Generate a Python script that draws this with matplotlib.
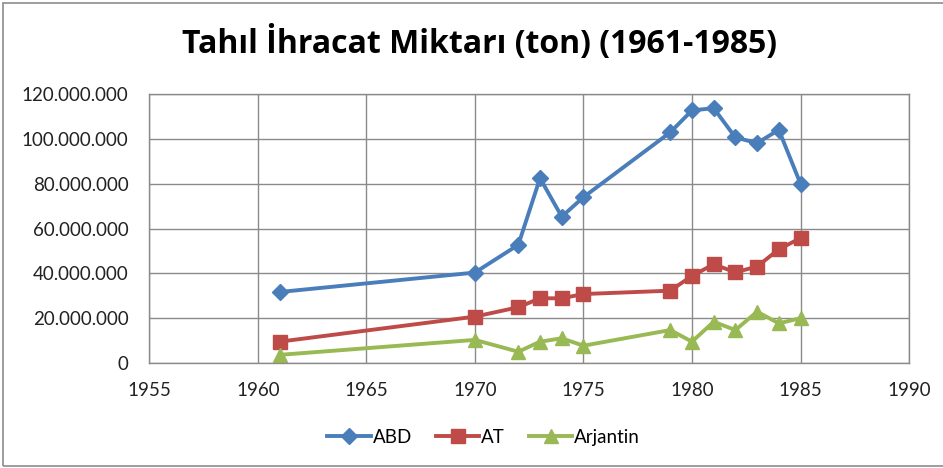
import numpy as np
import matplotlib
matplotlib.use('Agg')
from matplotlib import pyplot as plt
from matplotlib.ticker import FuncFormatter
from matplotlib.patches import Rectangle

years = [1961, 1970, 1972, 1973, 1974, 1975, 1979, 1980, 1981, 1982, 1983, 1984, 1985]
abd = [31.6, 40.3, 52.7, 82.5, 65.3, 74.0, 103.0, 112.8, 113.8, 100.7, 98.2, 104.1, 80.0]
at = [9.4, 20.6, 24.8, 28.8, 28.8, 30.7, 32.2, 38.8, 44.0, 40.4, 43.0, 50.7, 55.7]
arjantin = [3.5, 10.2, 4.9, 9.4, 10.9, 7.6, 14.6, 9.4, 18.3, 14.6, 22.8, 17.6, 19.9]

title = 'Tahıl İhracat Miktarı (ton) (1961-1985)'
FONT = ['Lato', 'DejaVu Sans']

plt.rcParams['font.family'] = FONT

fig = plt.figure(figsize=(9.43, 4.68), dpi=100)
fig.patches.append(Rectangle((3 / 943, 2 / 468), 1.2, 1 - 5 / 468,
                             transform=fig.transFigure, fill=False,
                             edgecolor='#8c8c8c', linewidth=1.2))
ax = fig.add_axes([0.1583, 0.225, 0.8057, 0.5735])

million = 1e6
ax.plot(years, np.array(abd) * million, color='#4A7EBB', lw=2.8,
        marker='D', ms=8.5, label='ABD')
ax.plot(years, np.array(at) * million, color='#BE4B48', lw=2.8,
        marker='s', ms=10, label='AT')
ax.plot(years, np.array(arjantin) * million, color='#98B954', lw=2.8,
        marker='^', ms=10.5, label='Arjantin')

ax.set_xlim(1955, 1990)
ax.set_ylim(0, 120 * million)
ax.set_xticks(range(1955, 1991, 5))
ax.set_yticks(np.arange(0, 121, 20) * million)
ax.yaxis.set_major_formatter(
    FuncFormatter(lambda v, p: f'{int(round(v)):,}'.replace(',', '.')))
ax.grid(True, color='#8a8a8a', lw=1)
ax.set_axisbelow(True)
for s in ax.spines.values():
    s.set_color('#8a8a8a')
    s.set_linewidth(1)
ax.tick_params(length=0, labelsize=13.5, colors='#222222')
ax.tick_params(axis='y', pad=15)
ax.tick_params(axis='x', pad=14)

fig.text(0.509, 0.906, title, ha='center', va='center',
         fontsize=23, fontweight='bold', family=['Open Sans', 'DejaVu Sans'])
fig.legend(loc='center', bbox_to_anchor=(0.513, 0.066), ncol=3,
           frameon=False, fontsize=13.5, handlelength=2.3,
           handletextpad=0.1, columnspacing=1.3)

plt.savefig('out.png', dpi=100)
